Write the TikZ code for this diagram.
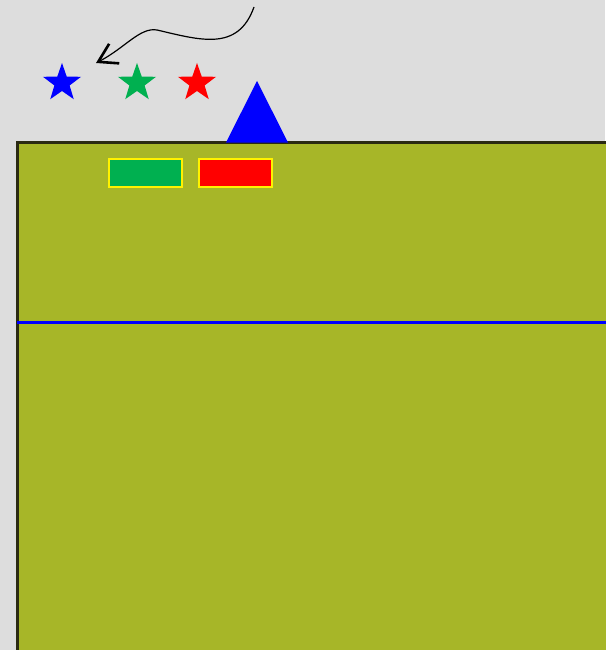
\documentclass[tikz,border=0pt]{standalone}
\usetikzlibrary{shapes.geometric,arrows.meta}
\definecolor{bg}{HTML}{DDDDDD}
\definecolor{olive}{HTML}{A7B628}
\definecolor{edge}{HTML}{2A2A12}
\definecolor{mygreen}{HTML}{00B050}
\tikzset{
  mystar/.style={star, star points=5, star point ratio=2.5, minimum size=40pt, inner sep=0pt, draw=none},
  badge/.style={draw=yellow, line width=2.4pt, minimum width=73pt, minimum height=28pt, inner sep=0pt, anchor=north west}
}
\begin{document}
\begin{tikzpicture}[x=1pt,y=-1pt]
\useasboundingbox (0,0) rectangle (605,650);
\fill[bg] (0,0) rectangle (605,650);
% main panel
\fill[olive] (17,142) rectangle (610,655);
\draw[edge, line width=3pt] (17,655) -- (17,142) -- (610,142);
\draw[blue, line width=3pt] (17,322) -- (610,322);
% triangle
\fill[blue] (257,81) -- (288,142.5) -- (226,142.5) -- cycle;
% stars
\node[mystar, fill=blue] (s1) at (62,83) {};
\node[mystar, fill=mygreen] (s2) at (137,83) {};
\node[mystar, fill=red] (s3) at (197,83) {};
% badges
\node[badge, fill=mygreen] (g) at (107.5,157.5) {};
\node[badge, fill=red] (r) at (197.5,157.5) {};
% arrow
\coordinate (a0) at (254,7);
\coordinate (a1) at (96,63);
\draw[line width=1.2pt, -{Straight Barb[length=18pt,width=22pt,line width=2.6pt]}]
  (a0) .. controls (238,52) and (200,40) .. (157,30)
       .. controls (140,27) and (125,48) .. (a1);
\end{tikzpicture}
\end{document}
